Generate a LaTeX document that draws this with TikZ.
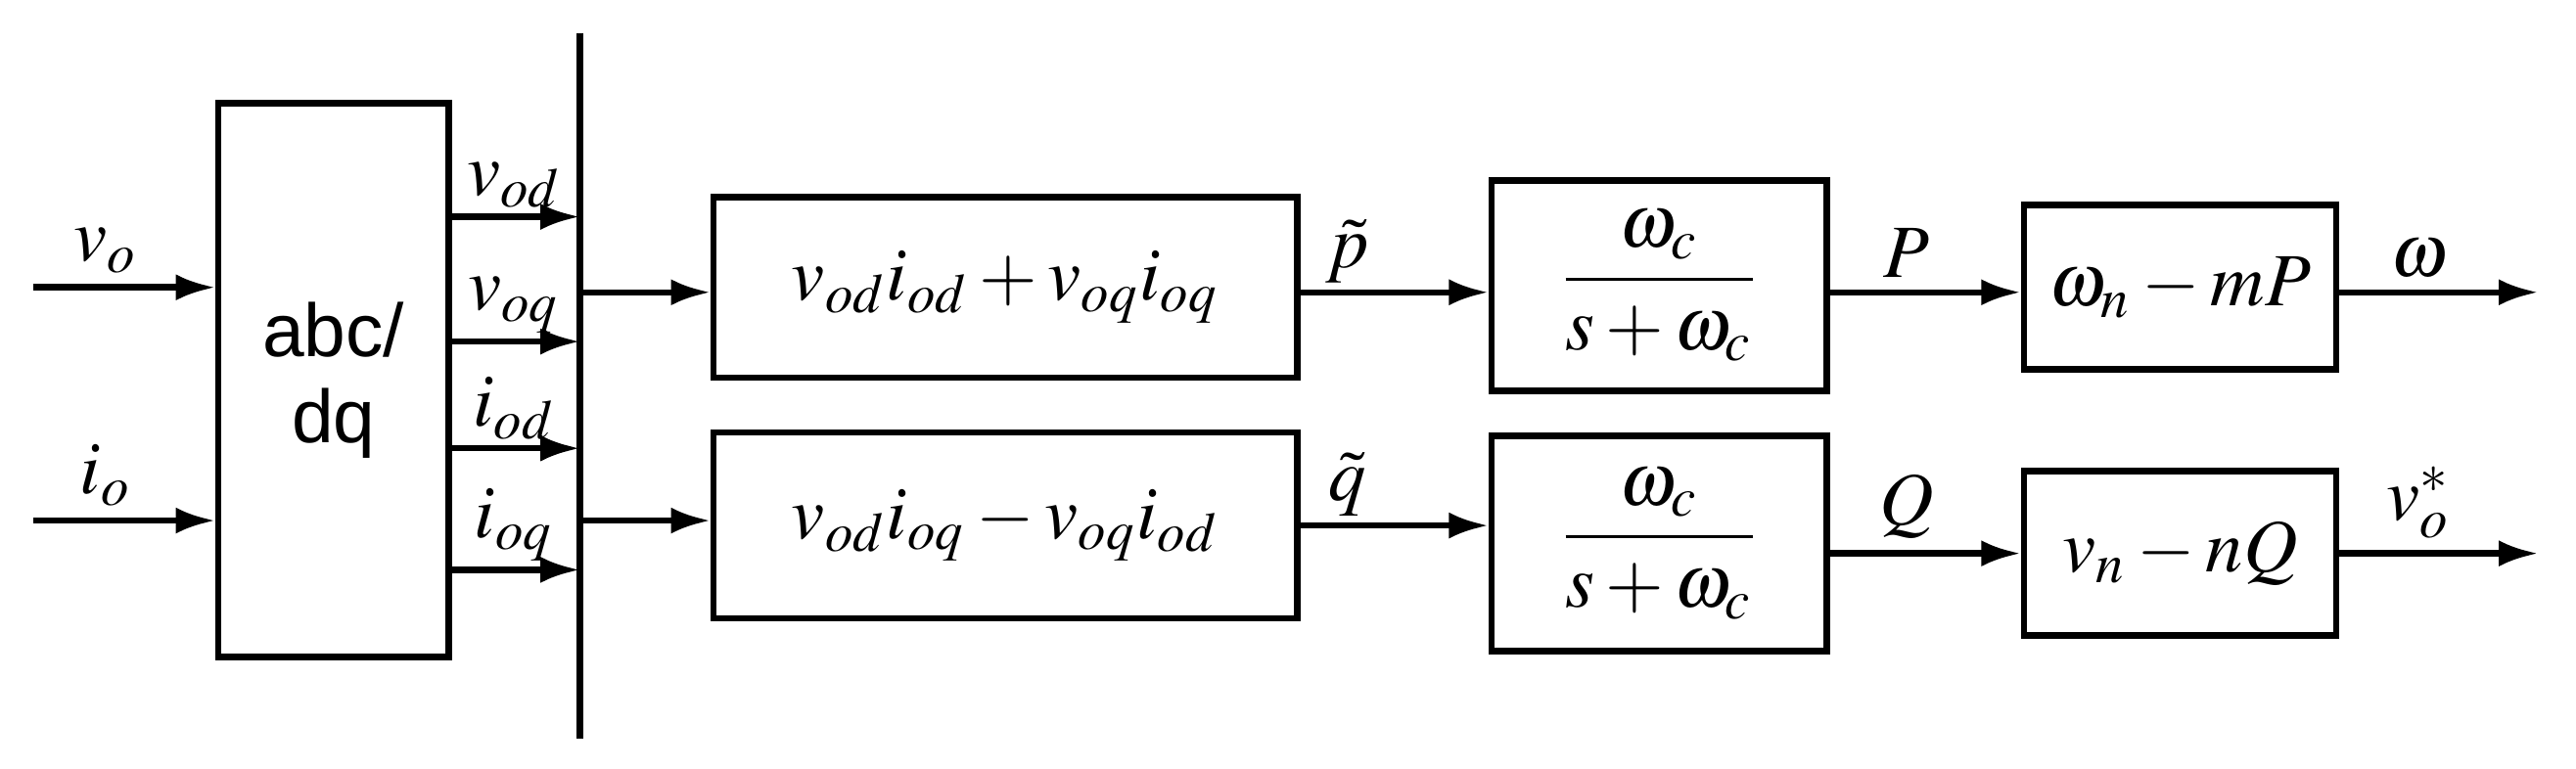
\documentclass[tikz,border=0pt]{standalone}
\usepackage{amsmath}
\usepackage{mathptmx}
\usepackage{fontspec}
\newfontfamily\arialf{Liberation Sans}
\usetikzlibrary{arrows.meta}
\begin{document}
\begin{tikzpicture}[x=0.01cm,y=-0.01cm,line width=1.1pt,
  blk/.style={draw,minimum width=#1,inner sep=0pt},
  arr/.style={-{Latex[length=0.24cm,width=0.16cm]}},
  lbl/.style={font=\fontsize{13}{15}\selectfont,inner sep=2pt}]
\useasboundingbox (0,0) rectangle (1568,468);
\node[blk,minimum width=1.4cm,minimum height=3.37cm,font=\arialf\fontsize{13}{15}\selectfont,align=center] (abc) at (203,231.5) {abc/\\dq};
\draw (353,20) coordinate (bt) -- (353,450) coordinate (bb);
\coordinate (in1) at (20,175); \coordinate (in2) at (20,317);
\draw[arr] (in1) -- (abc.west|-in1) node[lbl,pos=0.4,above] {$v_o$};
\draw[arr] (in2) -- (abc.west|-in2) node[lbl,pos=0.4,above] {$i_o$};
\foreach \y/\t in {132/v_{od},208/v_{oq},273/i_{od},347/i_{oq}}{
  \coordinate (s) at (273,\y);
  \draw[arr] (s) -- (353,\y) node[lbl,midway,above,inner sep=1pt] {$\t$};
}
\node[blk,minimum width=3.55cm,minimum height=1.1cm,lbl] (m1) at (612,175) {$v_{od}i_{od}+v_{oq}i_{oq}$};
\node[blk,minimum width=3.55cm,minimum height=1.13cm,lbl] (m2) at (612,320) {$v_{od}i_{oq}-v_{oq}i_{od}$};
\node[blk,minimum width=2.04cm,minimum height=1.28cm,lbl] (f1) at (1010,174) {$\dfrac{\omega_c}{s+\omega_c}$};
\node[blk,minimum width=2.04cm,minimum height=1.31cm,lbl] (f2) at (1010,331) {$\dfrac{\omega_c}{s+\omega_c}$};
\node[blk,minimum width=1.9cm,minimum height=1.0cm,lbl] (d1) at (1327,175) {$\omega_n-mP$};
\node[blk,minimum width=1.9cm,minimum height=1.0cm,lbl] (d2) at (1327,337) {$v_n-nQ$};
\coordinate (b1) at (353,178); \coordinate (b2) at (353,317);
\draw[arr] (b1) -- (m1.west|-b1);
\draw[arr] (b2) -- (m2.west|-b2);
\draw[arr] (m1.east|-b1) -- (f1.west|-b1) node[lbl,pos=0.25,above,inner sep=1pt] {$\tilde p$};
\draw[arr] (m2.east) -- (f2.west|-m2.east) node[lbl,pos=0.25,above,inner sep=1pt] {$\tilde q$};
\draw[arr] (f1.east|-b1) -- (d1.west|-b1) node[lbl,pos=0.4,above] {$P$};
\draw[arr] (f2.east|-d2) -- (d2.west) node[lbl,pos=0.4,above] {$Q$};
\coordinate (o1) at (1545,178); \coordinate (o2) at (1545,337);
\draw[arr] (d1.east|-o1) -- (o1) node[lbl,pos=0.4,above] {$\omega$};
\draw[arr] (d2.east) -- (o2) node[lbl,pos=0.4,above] {$v_o^*$};
\end{tikzpicture}
\end{document}
